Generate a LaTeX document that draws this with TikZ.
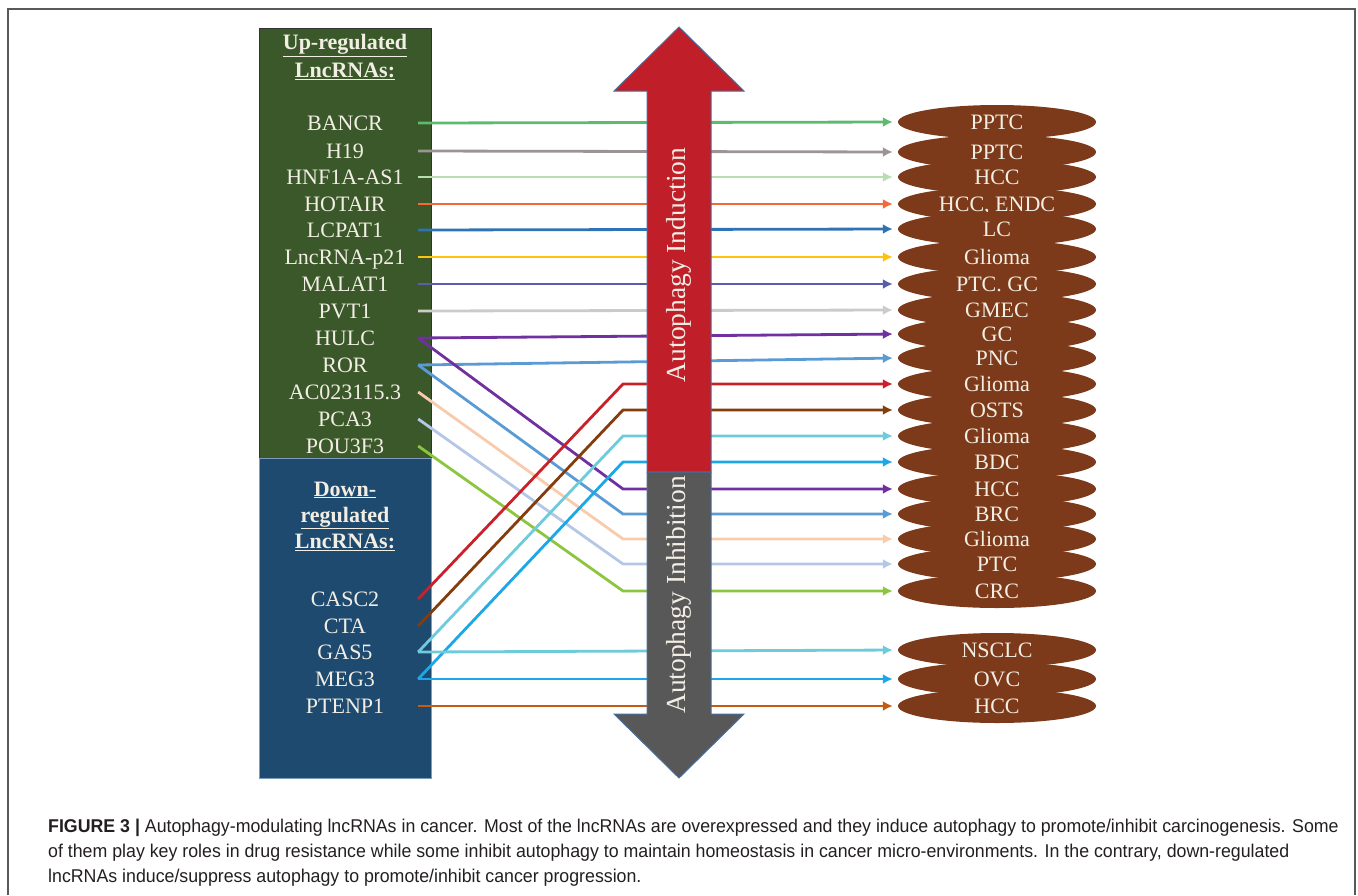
\documentclass[tikz,border=0pt]{standalone}
\usepackage{fontspec}
\setmainfont{Liberation Serif}
\newfontfamily\capfont[FakeStretch=0.96]{Liberation Sans}
\usetikzlibrary{arrows.meta,shapes.geometric}
\pgfdeclarelayer{background}
\pgfdeclarelayer{foreground}
\pgfsetlayers{background,main,foreground}
\definecolor{upgreen}{RGB}{58,88,42}
\definecolor{downblue}{RGB}{30,74,112}
\definecolor{paletext}{RGB}{242,238,228}
\definecolor{cancerbrown}{RGB}{124,58,26}
\definecolor{inducered}{RGB}{192,30,40}
\definecolor{inhibitgray}{RGB}{88,88,88}
\definecolor{arrowedge}{RGB}{70,112,160}
\definecolor{captext}{RGB}{35,31,32}
\definecolor{cBancr}{RGB}{93,187,111}
\definecolor{cHnineteen}{RGB}{156,148,148}
\definecolor{cHnf}{RGB}{184,221,176}
\definecolor{cHotair}{RGB}{244,104,58}
\definecolor{cLcpat}{RGB}{46,116,181}
\definecolor{cPtwoone}{RGB}{255,194,14}
\definecolor{cMalat}{RGB}{90,93,170}
\definecolor{cPvt}{RGB}{203,203,203}
\definecolor{cHulc}{RGB}{112,48,160}
\definecolor{cRor}{RGB}{91,155,213}
\definecolor{cAc}{RGB}{248,203,173}
\definecolor{cPca}{RGB}{180,199,231}
\definecolor{cPou}{RGB}{140,198,62}
\definecolor{cCasc}{RGB}{201,33,42}
\definecolor{cCta}{RGB}{132,60,12}
\definecolor{cGas}{RGB}{109,203,219}
\definecolor{cMeg}{RGB}{28,167,230}
\definecolor{cPtenp}{RGB}{197,90,17}

\begin{document}
\begin{tikzpicture}[x=1pt,y=-1pt,
						lncnode/.style={text=paletext, font=\fontsize{22}{26}\selectfont, minimum width=146pt, inner sep=0pt, text height=15pt, text depth=0pt},
						titlenode/.style={text=paletext, align=center, inner sep=0pt},
						cancernode/.style={ellipse, fill=cancerbrown, text=paletext, font=\fontsize{22}{26}\selectfont, minimum width=198pt, minimum height=34pt, inner sep=0pt, text height=15pt, text depth=0pt},
						link/.style={line width=2.8pt, -{Latex[length=10pt,width=10pt]}, shorten >=5pt},
						bigtext/.style={rotate=90, text=paletext, font=\fontsize{27.5}{30}\selectfont},
						capline/.style={anchor=base west, inner sep=0pt, text=captext, font=\capfont\fontsize{18.5}{22}\selectfont},
						]
						\useasboundingbox (0,0) rectangle (1358,895);
						\draw[black!65, line width=1.5pt] (8,895) -- (8,9) -- (1355,9) -- (1355,895);
						%Nodes
						\node[titlenode, font=\bfseries\fontsize{22}{28}\selectfont] (uptitle) at (345,57) {\underline{Up-regulated}\\\underline{LncRNAs:}};
						\node[lncnode]      (bancr) 	at 	(345,123)       {BANCR};
						\node[lncnode]      (h19) 	at 	(345,151)       {H19};
						\node[lncnode]      (hnf) 	at 	(345,177)       {HNF1A-AS1};
						\node[lncnode]      (hotair) 	at 	(345,204)       {HOTAIR};
						\node[lncnode]      (lcpat1) 	at 	(345,230)       {LCPAT1};
						\node[lncnode]      (p21) 	at 	(345,257)       {LncRNA-p21};
						\node[lncnode]      (malat1) 	at 	(345,284)       {MALAT1};
						\node[lncnode]      (pvt1) 	at 	(345,311)       {PVT1};
						\node[lncnode]      (hulc) 	at 	(345,338)       {HULC};
						\node[lncnode]      (ror) 	at 	(345,365)       {ROR};
						\node[lncnode]      (ac) 	at 	(345,392)       {AC023115.3};
						\node[lncnode]      (pca3) 	at 	(345,419)       {PCA3};
						\node[lncnode]      (pou3f3) 	at 	(345,446)       {POU3F3};
						\node[titlenode, font=\bfseries\fontsize{22}{26}\selectfont] (downtitle) at (345,516) {\underline{Down-}\\\underline{regulated}\\\underline{LncRNAs:}};
						\node[lncnode]      (casc2) 	at 	(345,599)       {CASC2};
						\node[lncnode]      (cta) 	at 	(345,626)       {CTA};
						\node[lncnode]      (gas5) 	at 	(345,652)       {GAS5};
						\node[lncnode]      (meg3) 	at 	(345,679)       {MEG3};
						\node[lncnode]      (ptenp1) 	at 	(345,706)       {PTENP1};
						
						\node[cancernode]   (e1) 	at 	(997,122)       {PPTC};
						\node[cancernode]   (e2) 	at 	(997,152)       {PPTC};
						\node[cancernode]   (e3) 	at 	(997,177)       {HCC};
						\node[cancernode]   (e4) 	at 	(997,204)       {HCC, ENDC};
						\node[cancernode]   (e5) 	at 	(997,229)       {LC};
						\node[cancernode]   (e6) 	at 	(997,257)       {Glioma};
						\node[cancernode]   (e7) 	at 	(997,284)       {PTC. GC};
						\node[cancernode]   (e8) 	at 	(997,310)       {GMEC};
						\node[cancernode]   (e9) 	at 	(997,334)       {GC};
						\node[cancernode]   (e10) 	at 	(997,358)       {PNC};
						\node[cancernode]   (e11) 	at 	(997,384)       {Glioma};
						\node[cancernode]   (e12) 	at 	(997,410)       {OSTS};
						\node[cancernode]   (e13) 	at 	(997,436)       {Glioma};
						\node[cancernode]   (e14) 	at 	(997,462)       {BDC};
						\node[cancernode]   (e15) 	at 	(997,489)       {HCC};
						\node[cancernode]   (e16) 	at 	(997,514)       {BRC};
						\node[cancernode]   (e17) 	at 	(997,539)       {Glioma};
						\node[cancernode]   (e18) 	at 	(997,564)       {PTC};
						\node[cancernode]   (e19) 	at 	(997,591)       {CRC};
						\node[cancernode]   (e20) 	at 	(997,650)       {NSCLC};
						\node[cancernode]   (e21) 	at 	(997,679)       {OVC};
						\node[cancernode]   (e22) 	at 	(997,706)       {HCC};
						\coordinate (kx) at (623,0);
						
						\node[capline] (cap1) at (48,832) {\textbf{FIGURE 3 |} Autophagy-modulating lncRNAs in cancer. Most of the lncRNAs are overexpressed and they induce autophagy to promote/inhibit carcinogenesis. Some};
						\node[capline] (cap2) at (48,857) {of them play key roles in drug resistance while some inhibit autophagy to maintain homeostasis in cancer micro-environments. In the contrary, down-regulated};
						\node[capline] (cap3) at (48,882) {lncRNAs induce/suppress autophagy to promote/inhibit cancer progression.};
						
						\begin{pgfonlayer}{background}
						\filldraw[fill=upgreen, draw=black!80, line width=1pt] (259,28) rectangle (431,458);
						\filldraw[fill=downblue, draw=arrowedge!70, line width=1pt] (259,458) rectangle (431,778);
						\end{pgfonlayer}
						
						\draw[link, cBancr] (bancr.east) -- (e1.west);
						\draw[link, cHnineteen] (h19.east) -- (e2.west);
						\draw[link, cHnf] (hnf.east) -- (e3.west);
						\draw[link, cHotair] (hotair.east) -- (e4.west);
						\draw[link, cLcpat] (lcpat1.east) -- (e5.west);
						\draw[link, cPtwoone] (p21.east) -- (e6.west);
						\draw[link, cMalat] (malat1.east) -- (e7.west);
						\draw[link, cPvt] (pvt1.east) -- (e8.west);
						\draw[link, cHulc] (hulc.east) -- (e9.west);
						\draw[link, cRor] (ror.east) -- (e10.west);
						\draw[link, cAc] (ac.east) -- (kx |- e17.west) -- (e17.west);
						\draw[link, cPca] (pca3.east) -- (kx |- e18.west) -- (e18.west);
						\draw[link, cRor] (ror.east) -- (kx |- e16.west) -- (e16.west);
						\draw[link, cHulc] (hulc.east) -- (kx |- e15.west) -- (e15.west);
						\draw[link, cPou] (pou3f3.east) -- (kx |- e19.west) -- (e19.west);
						\draw[link, cCasc] (casc2.east) -- (kx |- e11.west) -- (e11.west);
						\draw[link, cCta] (cta.east) -- (kx |- e12.west) -- (e12.west);
						\draw[link, cGas] (gas5.east) -- (kx |- e13.west) -- (e13.west);
						\draw[link, cMeg] (meg3.east) -- (kx |- e14.west) -- (e14.west);
						\draw[link, cGas] (gas5.east) -- (e20.west);
						\draw[link, cMeg] (meg3.east) -- (e21.west);
						\draw[link, cPtenp] (ptenp1.east) -- (e22.west);
						
						\begin{pgfonlayer}{foreground}
						\filldraw[fill=inducered, draw=arrowedge, line width=1pt] (647,472) -- (647,91) -- (614,91) -- (679,27) -- (744,91) -- (711,91) -- (711,472) -- cycle;
						\filldraw[fill=inhibitgray, draw=arrowedge, line width=1pt] (647,472) -- (711,472) -- (711,714) -- (744,714) -- (679,778) -- (614,714) -- (647,714) -- cycle;
						\node[bigtext] (induce) at (679,265) {Autophagy Induction};
						\node[bigtext] (inhibit) at (679,595) {Autophagy Inhibition};
						\end{pgfonlayer}
					\end{tikzpicture}
\end{document}
